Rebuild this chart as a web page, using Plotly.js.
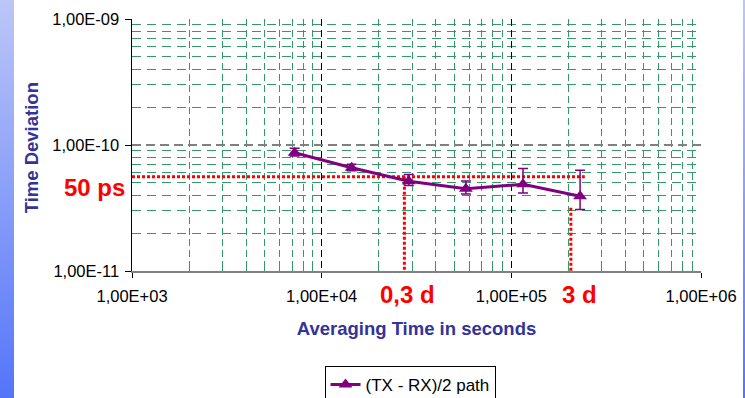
<!DOCTYPE html>
<html>
<head>
<meta charset="utf-8">
<script src="https://cdn.plot.ly/plotly-3.0.1.min.js"></script>
<style>
  html, body { margin: 0; padding: 0; }
  body {
    width: 745px; height: 398px; overflow: hidden;
    background:
      linear-gradient(to right, transparent 14px, #ffffff 14px, #ffffff 743px, transparent 743px),
      linear-gradient(to bottom, #bcc6f8, #5475f8);
  }
  #chart { width: 745px; height: 398px; }
</style>
</head>
<body>
<div id="chart"></div>
<script>
// ---- data ----
const tau       = [7200, 14400, 28800, 57600, 115200, 230400];          // averaging time (s)
const tdev      = [8.68e-11, 6.60e-11, 5.16e-11, 4.49e-11, 4.88e-11, 3.92e-11];
const errPlus   = [0.75e-11, 0.44e-11, 0.67e-11, 0.69e-11, 1.62e-11, 2.38e-11];
const errMinus  = [0.50e-11, 0.35e-11, 0.40e-11, 0.40e-11, 0.72e-11, 0.85e-11];
const seriesName = "(TX - RX)/2 path";

// reference (red dotted) guide lines
const refLevel  = 5.6e-11;           // "50 ps" level
const refHx     = [1000, 244000];
const ref1x     = 27300;             // "0,3 d"
const ref2x     = 206000;            // "3 d"
const ref2top   = 3.18e-11;
const yBottom   = 1e-11;

// tick labels
const xTickVals = [1e3, 1e4, 1e5, 1e6];
const xTickText = ["1,00E+03", "1,00E+04", "1,00E+05", "1,00E+06"];
const yTickVals = [1e-11, 1e-10, 1e-9];
const yTickText = ["1,00E-11", "1,00E-10", "1,00E-09"];

// minor tick positions (2..9 within each decade)
function minorVals(p0, p1) {
  const v = [];
  for (let p = p0; p < p1; p++) for (let d = 2; d <= 9; d++) v.push(d * Math.pow(10, p));
  return v;
}

const FONT = "Arial, 'Liberation Sans', sans-serif";
const PURPLE = "#800080";
const GREEN = "#339966";
const RED = "#ff0000";

const traces = [
  { x: refHx, y: [refLevel, refLevel], mode: "lines", showlegend: false, hoverinfo: "skip",
    line: { color: RED, width: 3, dash: "3px,2px" } },
  { x: [ref1x, ref1x], y: [refLevel, yBottom], mode: "lines", showlegend: false, hoverinfo: "skip",
    line: { color: RED, width: 3, dash: "3px,2px" } },
  { x: [ref2x, ref2x], y: [ref2top, yBottom], mode: "lines", showlegend: false, hoverinfo: "skip",
    line: { color: RED, width: 3, dash: "3px,2px" } },
  { x: tau, y: tdev, name: seriesName, mode: "lines+markers",
    line: { color: PURPLE, width: 3 },
    marker: { symbol: "triangle-up", size: 12, color: PURPLE },
    error_y: { type: "data", symmetric: false, array: errPlus, arrayminus: errMinus,
               color: PURPLE, thickness: 1.5, width: 5 } }
];

const layout = {
  width: 745, height: 398,
  margin: { l: 132, r: 44, t: 19, b: 127, autoexpand: false },
  paper_bgcolor: "rgba(0,0,0,0)",
  plot_bgcolor: "#ffffff",
  font: { family: FONT, color: "#000000", size: 16 },
  showlegend: true,
  legend: {
    xref: "container", yref: "container",
    x: 0.4356, y: 0.0804, xanchor: "left", yanchor: "top",
    bgcolor: "#ffffff", bordercolor: "#000000", borderwidth: 1,
    font: { family: FONT, size: 17, color: "#000000" }
  },
  xaxis: {
    type: "log", range: [3, 6], automargin: false,
    tickmode: "array", tickvals: xTickVals, ticktext: xTickText,
    ticks: "outside", ticklen: 5, tickcolor: "#000000", tickwidth: 1,
    tickfont: { family: FONT, size: 16.5 },
    ticklabelstandoff: 4,
    showline: true, linecolor: "#808080", linewidth: 2,
    showgrid: true, gridcolor: "#000000", gridwidth: 1, griddash: "7px,4px",
    minor: { tickmode: "array", tickvals: minorVals(3, 6), ticks: "inside", ticklen: 5,
             tickcolor: GREEN, showgrid: true, gridcolor: GREEN, gridwidth: 1, griddash: "7px,4px" },
    title: { text: "<b>Averaging Time in seconds</b>", standoff: 18,
             font: { family: FONT, size: 18.5, color: "#333399" } },
    zeroline: false
  },
  yaxis: {
    type: "log", range: [-11, -9], automargin: false,
    tickmode: "array", tickvals: yTickVals, ticktext: yTickText,
    ticks: "outside", ticklen: 6, tickcolor: "#000000", tickwidth: 1,
    tickfont: { family: FONT, size: 16.5 },
    ticklabelstandoff: 2,
    showline: true, linecolor: "#000000", linewidth: 1.5,
    showgrid: true, gridcolor: "#808080", gridwidth: 2, griddash: "9px,5px",
    minor: { tickmode: "array", tickvals: minorVals(-11, -9), ticks: "inside", ticklen: 5,
             tickcolor: GREEN, showgrid: true, gridcolor: GREEN, gridwidth: 1, griddash: "9px,6px" },
    zeroline: false
  },
  annotations: [
    { text: "<b>Time Deviation</b>", xref: "paper", yref: "paper", x: -0.177, y: 0.488,
      xanchor: "center", yanchor: "middle", textangle: -90,
      showarrow: false, font: { family: FONT, size: 18.5, color: "#333399" } },
    { text: "<b>50 ps</b>", xref: "paper", yref: "paper", x: -0.066, y: 0.333,
      xanchor: "center", yanchor: "middle",
      showarrow: false, font: { family: FONT, size: 24, color: RED } },
    { text: "<b>0,3 d</b>", xref: "paper", yref: "paper", x: 0.485, y: -0.095,
      xanchor: "center", yanchor: "middle",
      showarrow: false, font: { family: FONT, size: 24, color: RED } },
    { text: "<b>3 d</b>", xref: "paper", yref: "paper", x: 0.7856, y: -0.095,
      xanchor: "center", yanchor: "middle",
      showarrow: false, font: { family: FONT, size: 24, color: RED } }
  ]
};

Plotly.newPlot("chart", traces, layout, { displayModeBar: false, staticPlot: true });
</script>
</body>
</html>
